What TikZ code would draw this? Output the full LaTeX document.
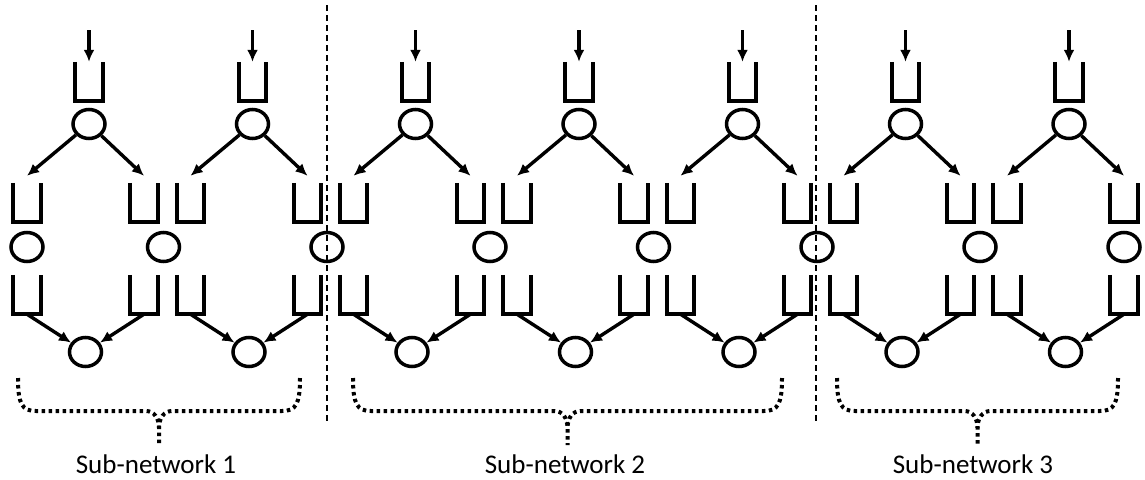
\documentclass[tikz,border=0pt]{standalone}
\usepackage{fontspec}
\newfontfamily\labelfont{Carlito}
\usetikzlibrary{arrows.meta,shapes.geometric,positioning}

\tikzset{
  queue/.style={rectangle,minimum width=27pt,minimum height=39pt,inner sep=0pt,
    append after command={\pgfextra{\draw[line width=3.8pt]
      (\tikzlastnode.north west) |- (\tikzlastnode.south) -| (\tikzlastnode.north east);}}},
  server/.style={ellipse,draw,line width=3.5pt,minimum width=32pt,minimum height=29pt,inner sep=0pt},
  flow/.style={->,line width=3.4pt},
  border/.style={line width=1.5pt,dash pattern=on 6pt off 4pt},
  group/.style={line width=4pt,dash pattern=on 3.5pt off 3.5pt},
  sublabel/.style={font=\labelfont\fontsize{27}{30}\selectfont,anchor=base,inner sep=0pt}
}

\begin{document}
\begin{tikzpicture}[x=1pt,y=-1pt,>={Latex[length=12pt,width=11pt]}]
  \useasboundingbox (0,0) rectangle (1145,479);
%%
  % Unit 1
  \coordinate (in1) at (89,30);
  \node[queue]  (q1)  at (89,81.5) {};
  \node[server] (s1)  at (89,124) {};
  \node[queue]  (lq1) at (27,202.5) {};
  \node[queue]  (rq1) at (144,202.5) {};
  \node[queue]  (lo1) at (27,294.5) {};
  \node[queue]  (ro1) at (144,294.5) {};
  \node[server] (j1)  at (85.5,352) {};
  \draw[flow] (in1) -- (q1.north);
  \draw[flow] (s1) -- ([yshift=7pt]lq1.north);
  \draw[flow] (s1) -- ([yshift=7pt]rq1.north);
  \draw[flow] (lo1.south) -- (j1);
  \draw[flow] (ro1.south) -- (j1);
  % Unit 2
  \coordinate (in2) at (252.5,30);
  \node[queue]  (q2)  at (252.5,81.5) {};
  \node[server] (s2)  at (252.5,124) {};
  \node[queue]  (lq2) at (190.5,202.5) {};
  \node[queue]  (rq2) at (307.5,202.5) {};
  \node[queue]  (lo2) at (190.5,294.5) {};
  \node[queue]  (ro2) at (307.5,294.5) {};
  \node[server] (j2)  at (249,352) {};
  \draw[flow] (in2) -- (q2.north);
  \draw[flow] (s2) -- ([yshift=7pt]lq2.north);
  \draw[flow] (s2) -- ([yshift=7pt]rq2.north);
  \draw[flow] (lo2.south) -- (j2);
  \draw[flow] (ro2.south) -- (j2);
  % Unit 3
  \coordinate (in3) at (415.5,30);
  \node[queue]  (q3)  at (415.5,81.5) {};
  \node[server] (s3)  at (415.5,124) {};
  \node[queue]  (lq3) at (353.5,202.5) {};
  \node[queue]  (rq3) at (470.5,202.5) {};
  \node[queue]  (lo3) at (353.5,294.5) {};
  \node[queue]  (ro3) at (470.5,294.5) {};
  \node[server] (j3)  at (412,352) {};
  \draw[flow] (in3) -- (q3.north);
  \draw[flow] (s3) -- ([yshift=7pt]lq3.north);
  \draw[flow] (s3) -- ([yshift=7pt]rq3.north);
  \draw[flow] (lo3.south) -- (j3);
  \draw[flow] (ro3.south) -- (j3);
  % Unit 4
  \coordinate (in4) at (579,30);
  \node[queue]  (q4)  at (579,81.5) {};
  \node[server] (s4)  at (579,124) {};
  \node[queue]  (lq4) at (517,202.5) {};
  \node[queue]  (rq4) at (634,202.5) {};
  \node[queue]  (lo4) at (517,294.5) {};
  \node[queue]  (ro4) at (634,294.5) {};
  \node[server] (j4)  at (575.5,352) {};
  \draw[flow] (in4) -- (q4.north);
  \draw[flow] (s4) -- ([yshift=7pt]lq4.north);
  \draw[flow] (s4) -- ([yshift=7pt]rq4.north);
  \draw[flow] (lo4.south) -- (j4);
  \draw[flow] (ro4.south) -- (j4);
  % Unit 5
  \coordinate (in5) at (742.5,30);
  \node[queue]  (q5)  at (742.5,81.5) {};
  \node[server] (s5)  at (742.5,124) {};
  \node[queue]  (lq5) at (680.5,202.5) {};
  \node[queue]  (rq5) at (797.5,202.5) {};
  \node[queue]  (lo5) at (680.5,294.5) {};
  \node[queue]  (ro5) at (797.5,294.5) {};
  \node[server] (j5)  at (739,352) {};
  \draw[flow] (in5) -- (q5.north);
  \draw[flow] (s5) -- ([yshift=7pt]lq5.north);
  \draw[flow] (s5) -- ([yshift=7pt]rq5.north);
  \draw[flow] (lo5.south) -- (j5);
  \draw[flow] (ro5.south) -- (j5);
  % Unit 6
  \coordinate (in6) at (905.5,30);
  \node[queue]  (q6)  at (905.5,81.5) {};
  \node[server] (s6)  at (905.5,124) {};
  \node[queue]  (lq6) at (843.5,202.5) {};
  \node[queue]  (rq6) at (960.5,202.5) {};
  \node[queue]  (lo6) at (843.5,294.5) {};
  \node[queue]  (ro6) at (960.5,294.5) {};
  \node[server] (j6)  at (902,352) {};
  \draw[flow] (in6) -- (q6.north);
  \draw[flow] (s6) -- ([yshift=7pt]lq6.north);
  \draw[flow] (s6) -- ([yshift=7pt]rq6.north);
  \draw[flow] (lo6.south) -- (j6);
  \draw[flow] (ro6.south) -- (j6);
  % Unit 7
  \coordinate (in7) at (1069,30);
  \node[queue]  (q7)  at (1069,81.5) {};
  \node[server] (s7)  at (1069,124) {};
  \node[queue]  (lq7) at (1007,202.5) {};
  \node[queue]  (rq7) at (1124,202.5) {};
  \node[queue]  (lo7) at (1007,294.5) {};
  \node[queue]  (ro7) at (1124,294.5) {};
  \node[server] (j7)  at (1065.5,352) {};
  \draw[flow] (in7) -- (q7.north);
  \draw[flow] (s7) -- ([yshift=7pt]lq7.north);
  \draw[flow] (s7) -- ([yshift=7pt]rq7.north);
  \draw[flow] (lo7.south) -- (j7);
  \draw[flow] (ro7.south) -- (j7);
  % Middle row of servers
  \node[server] (m0) at (27,247) {};
  \node[server] (m1) at (163.5,247) {};
  \node[server] (m2) at (327,247) {};
  \node[server] (m3) at (490,247) {};
  \node[server] (m4) at (653.5,247) {};
  \node[server] (m5) at (817,247) {};
  \node[server] (m6) at (980,247) {};
  \node[server] (m7) at (1124,247) {};
  % Borders
  \draw[border] (327,5) -- (327,423);
  \draw[border] (816,5) -- (816,423);
  % Sub-network 1
  \draw[group] (18,378) .. controls (18,404) and (22,411) .. (36,411) -- (146,411)
    .. controls (154,411) and (159,418) .. (159,428) -- (159,445);
  \draw[group] (300,378) .. controls (300,404) and (296,411) .. (282,411) -- (172,411)
    .. controls (164,411) and (159,418) .. (159,428);
  \node[sublabel] (n1) at (156,473) {Sub-network 1};
  % Sub-network 2
  \draw[group] (353,378) .. controls (353,404) and (357,411) .. (371,411) -- (554.5,411)
    .. controls (562.5,411) and (567.5,418) .. (567.5,428) -- (567.5,445);
  \draw[group] (782,378) .. controls (782,404) and (778,411) .. (764,411) -- (580.5,411)
    .. controls (572.5,411) and (567.5,418) .. (567.5,428);
  \node[sublabel] (n2) at (565,473) {Sub-network 2};
  % Sub-network 3
  \draw[group] (837,378) .. controls (837,404) and (841,411) .. (855,411) -- (964.5,411)
    .. controls (972.5,411) and (977.5,418) .. (977.5,428) -- (977.5,445);
  \draw[group] (1118,378) .. controls (1118,404) and (1114,411) .. (1100,411) -- (990.5,411)
    .. controls (982.5,411) and (977.5,418) .. (977.5,428);
  \node[sublabel] (n3) at (973,473) {Sub-network 3};
%
\end{tikzpicture}
\end{document}
